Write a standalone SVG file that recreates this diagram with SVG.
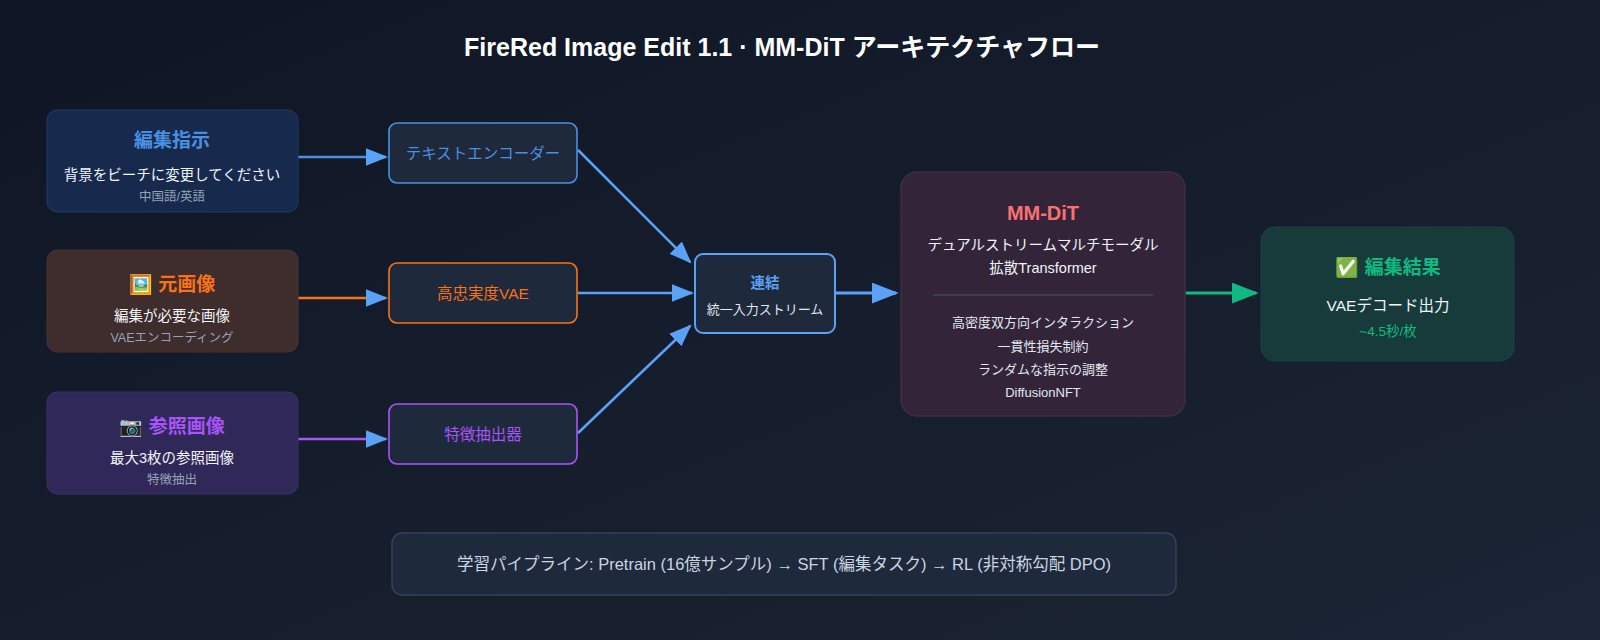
<svg xmlns="http://www.w3.org/2000/svg" width="1600" height="640" viewBox="0 0 1600 640">
<defs>
<linearGradient id="bg" x1="0" y1="0" x2="1" y2="1"><stop offset="0" stop-color="#0f1524"/><stop offset="1" stop-color="#1c2535"/></linearGradient>
<marker id="ab" viewBox="0 0 10 10" refX="9" refY="5" markerWidth="9" markerHeight="7" orient="auto" preserveAspectRatio="none"><path d="M0,0L10,5L0,10z" fill="#5aa2f5"/></marker>
<marker id="ag" viewBox="0 0 10 10" refX="9" refY="5" markerWidth="9" markerHeight="7" orient="auto" preserveAspectRatio="none"><path d="M0,0L10,5L0,10z" fill="#10b981"/></marker>
<style>
text{font-family:"Liberation Sans","Noto Sans CJK JP",sans-serif;text-anchor:middle}
.t{font-size:19px;font-weight:bold}
.w{font-size:14.5px;fill:#f1f5f9}
.g{font-size:12.5px;fill:#94a3b8}
.s{font-size:13px;fill:#e2e8f0}
.mid{fill:#1e293b;stroke-width:1.6}
</style>
</defs>
<rect width="1600" height="640" fill="url(#bg)"/>
<text x="782" y="56" style="font-size:25px;font-weight:bold" fill="#ffffff">FireRed Image Edit 1.1 · MM-DiT アーキテクチャフロー</text>
<g id="conn" fill="none" stroke-width="2.5">
<line x1="298" y1="157" x2="386" y2="157" stroke="#4a90e2" marker-end="url(#ab)"/>
<line x1="298" y1="298" x2="386" y2="298" stroke="#f97316" marker-end="url(#ab)"/>
<line x1="298" y1="439" x2="386" y2="439" stroke="#a855f7" marker-end="url(#ab)"/>
<line x1="578" y1="150" x2="690" y2="262" stroke="#5aa2f5" marker-end="url(#ab)"/>
<line x1="578" y1="293" x2="692" y2="293" stroke="#5aa2f5" marker-end="url(#ab)"/>
<line x1="578" y1="433" x2="690" y2="326" stroke="#5aa2f5" marker-end="url(#ab)"/>
<line x1="836" y1="293" x2="896" y2="293" stroke="#5aa2f5" stroke-width="3" marker-end="url(#ab)"/>
<line x1="1185" y1="293" x2="1256" y2="293" stroke="#10b981" stroke-width="3" marker-end="url(#ag)"/>
</g>
<g id="n1"><rect x="47" y="110" width="251" height="102" rx="10" fill="#172a4d" stroke="#1f3a63"/>
<text x="172" y="147" class="t" fill="#4a90e2">編集指示</text><text x="172" y="180" class="w">背景をビーチに変更してください</text><text x="172" y="201" class="g">中国語/英語</text></g>
<g id="n2"><rect x="47" y="250" width="251" height="102" rx="10" fill="#3f2c2c" stroke="#4a3430"/>
<text x="172" y="291" class="t" fill="#f97316">🖼️ 元画像</text><text x="172" y="321" class="w">編集が必要な画像</text><text x="172" y="342" class="g">VAEエンコーディング</text></g>
<g id="n3"><rect x="47" y="392" width="251" height="102" rx="10" fill="#31285a" stroke="#3b2f68"/>
<text x="172" y="433" class="t" fill="#a855f7">📷 参照画像</text><text x="172" y="463" class="w">最大3枚の参照画像</text><text x="172" y="484" class="g">特徴抽出</text></g>
<g id="e1"><rect x="389" y="123" width="188" height="60" rx="8" class="mid" stroke="#4a90e2"/><text x="483" y="159" style="font-size:15.5px" fill="#4a90e2">テキストエンコーダー</text></g>
<g id="e2"><rect x="389" y="263" width="188" height="60" rx="8" class="mid" stroke="#f97316"/><text x="483" y="299" style="font-size:15.5px" fill="#f97316">高忠実度VAE</text></g>
<g id="e3"><rect x="389" y="404" width="188" height="60" rx="8" class="mid" stroke="#a855f7"/><text x="483" y="440" style="font-size:15.5px" fill="#a855f7">特徴抽出器</text></g>
<g id="cat"><rect x="695" y="254" width="140" height="79" rx="8" fill="#1e293b" stroke="#5aa2f5" stroke-width="2"/>
<text x="765" y="288" style="font-size:14.5px;font-weight:bold" fill="#5aa2f5">連結</text><text x="765" y="314" class="s">統一入力ストリーム</text></g>
<g id="mm"><rect x="901" y="172" width="284" height="244" rx="16" fill="#33243a" stroke="#3e2e44" stroke-width="1.5"/>
<text x="1043" y="220" style="font-size:20px;font-weight:bold" fill="#f87171">MM-DiT</text>
<text x="1043" y="250" class="w">デュアルストリームマルチモーダル</text><text x="1043" y="273" class="w">拡散Transformer</text>
<line x1="933" y1="295" x2="1153" y2="295" stroke="#4b5563"/>
<text x="1043" y="327" class="s">高密度双方向インタラクション</text><text x="1043" y="351" class="s">一貫性損失制約</text><text x="1043" y="374" class="s">ランダムな指示の調整</text><text x="1043" y="397" class="s">DiffusionNFT</text></g>
<g id="out"><rect x="1261" y="227" width="253" height="134" rx="14" fill="#173b3b" stroke="#1b4542"/>
<text x="1388" y="274" class="t" fill="#10b981">✅ 編集結果</text><text x="1388" y="311" style="font-size:15.5px" fill="#f1f5f9">VAEデコード出力</text><text x="1388" y="336" style="font-size:13.5px" fill="#10b981">~4.5秒/枚</text></g>
<g id="pipe"><rect x="392" y="533" width="784" height="62" rx="10" fill="#1e293b" stroke="#334155" stroke-width="1.5"/>
<text x="784" y="570" style="font-size:16.5px" fill="#cbd5e1">学習パイプライン: Pretrain (16億サンプル) → SFT (編集タスク) → RL (非対称勾配 DPO)</text></g>
</svg>
